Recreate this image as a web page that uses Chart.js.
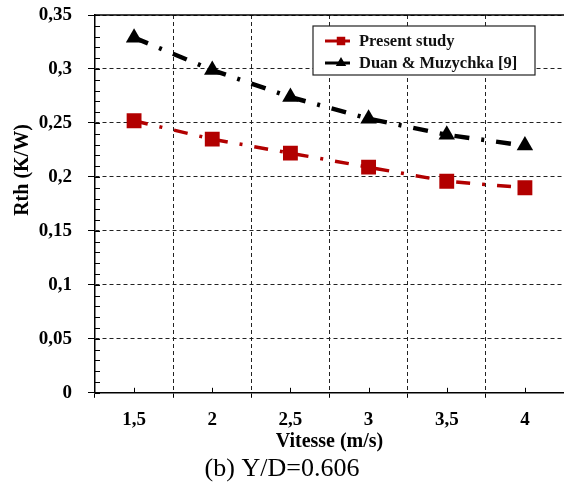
<!DOCTYPE html>
<html>
<head>
<meta charset="utf-8">
<script src="https://cdn.jsdelivr.net/npm/chart.js@4.4.1/dist/chart.umd.min.js"></script>
<style>
  body { margin: 0; background: #fff; }
  #wrap { width: 564px; height: 488px; position: relative; }
</style>
</head>
<body>
<div id="wrap"><canvas id="myChart"></canvas></div>
<script>
const vitesse = ['1,5', '2', '2,5', '3', '3,5', '4'];
const presentStudy = [0.252, 0.235, 0.222, 0.209, 0.196, 0.190];
const duanMuzychka = [0.329, 0.299, 0.274, 0.254, 0.239, 0.229];
const seriesNames = ['Present study', 'Duan & Muzychka [9]'];
const yTitle = 'Rth (K/W)';

const serif = "'Liberation Serif', 'Times New Roman', serif";

// minor ticks, solid top frame, y title and the boxed legend
const extras = {
  id: 'extras',
  afterDatasetsDraw(chart) {
    const ctx = chart.ctx;
    const a = chart.chartArea;
    const x = chart.scales.x, y = chart.scales.y;
    ctx.save();
    ctx.strokeStyle = '#000';
    ctx.lineWidth = 1;
    for (let i = 0; i <= 35; i++) {
      const py = Math.round(y.getPixelForValue(i / 100)) + 0.5;
      ctx.beginPath();
      ctx.moveTo(a.left, py);
      ctx.lineTo(a.left + 5, py);
      ctx.stroke();
    }
    for (let i = 0; i < vitesse.length; i++) {
      const px = Math.round(x.getPixelForValue(i)) + 0.5;
      ctx.beginPath();
      ctx.moveTo(px, a.bottom);
      ctx.lineTo(px, a.bottom - 5);
      ctx.stroke();
    }
    ctx.lineWidth = 1.5;
    ctx.beginPath();
    ctx.moveTo(a.left, a.top);
    ctx.lineTo(a.right, a.top);
    ctx.stroke();

    // y axis title, sits a bit above the middle like the original
    ctx.save();
    ctx.translate(23, 170);
    ctx.rotate(-Math.PI / 2);
    ctx.fillStyle = '#000';
    ctx.font = "bold 20px " + serif;
    ctx.textAlign = 'center';
    ctx.textBaseline = 'middle';
    ctx.fillText(yTitle, 0, 0);
    ctx.restore();

    // legend
    const bx = 313, by = 26, bw = 222, bh = 49;
    ctx.fillStyle = '#fff';
    ctx.fillRect(bx, by, bw, bh);
    ctx.strokeStyle = '#222';
    ctx.lineWidth = 1.2;
    ctx.strokeRect(bx, by, bw, bh);
    chart.data.datasets.forEach((ds, i) => {
      const cy = by + 15 + i * 22;
      ctx.strokeStyle = ds.borderColor;
      ctx.lineWidth = 3;
      ctx.setLineDash([]);
      ctx.beginPath();
      ctx.moveTo(bx + 12, cy);
      ctx.lineTo(bx + 37, cy);
      ctx.stroke();
      ctx.fillStyle = ds.backgroundColor;
      Chart.helpers.drawPoint(ctx, { pointStyle: ds.pointStyle, radius: 6, rotation: 0, borderWidth: 0 }, bx + 28, cy);
      ctx.fillStyle = '#111';
      ctx.font = "bold 16.5px " + serif;
      ctx.textBaseline = 'middle';
      ctx.textAlign = 'left';
      ctx.fillText(ds.label, bx + 46, cy + 1);
    });
    ctx.restore();
  }
};

new Chart(document.getElementById('myChart'), {
  type: 'line',
  data: {
    labels: vitesse,
    datasets: [{
      label: seriesNames[0],
      data: presentStudy,
      borderColor: '#b20000',
      backgroundColor: '#b20000',
      borderWidth: 3.5,
      borderDash: [14, 12, 3, 12],
      pointStyle: 'rect',
      pointRadius: 10.5,
      pointHoverRadius: 10.5,
      pointBorderWidth: 0,
      fill: false
    }, {
      label: seriesNames[1],
      data: duanMuzychka,
      borderColor: '#000',
      backgroundColor: '#000',
      borderWidth: 4.5,
      borderDash: [15, 12, 3, 12],
      pointStyle: 'triangle',
      pointRadius: 9.5,
      pointHoverRadius: 9.5,
      pointBorderWidth: 0,
      fill: false
    }]
  },
  options: {
    responsive: true,
    maintainAspectRatio: false,
    animation: false,
    layout: { autoPadding: false, padding: { top: 15, right: 0, left: 0, bottom: 0 } },
    plugins: {
      legend: { display: false },
      tooltip: { enabled: false },
      title: {
        display: true,
        position: 'bottom',
        text: '(b) Y/D=0.606',
        color: '#000',
        font: { family: serif, size: 26, weight: 'normal' },
        padding: { top: 0, bottom: 3 }
      }
    },
    scales: {
      x: {
        offset: true,
        afterFit(scale) {
          scale.height = 61;
          scale.paddingLeft = 0;
          scale.paddingRight = 0;
        },
        grid: {
          offset: true,
          color: '#222',
          lineWidth: 1,
          tickLength: 5,
          tickColor: '#000'
        },
        border: { display: true, color: '#000', width: 1.5, dash: [4, 3] },
        ticks: {
          color: '#000',
          padding: 11,
          maxRotation: 0,
          font: { family: serif, size: 19, weight: 'bold' }
        },
        title: {
          display: true,
          text: 'Vitesse (m/s)',
          color: '#000',
          font: { family: serif, size: 20, weight: 'bold' },
          padding: { top: 0, bottom: 0 }
        }
      },
      y: {
        min: 0,
        max: 0.35,
        afterFit(scale) {
          scale.width = 95;
          scale.paddingTop = 0;
          scale.paddingBottom = 0;
        },
        grid: {
          color: '#222',
          lineWidth: 1,
          tickLength: 7,
          tickColor: '#000'
        },
        border: { display: true, color: '#000', width: 1.5, dash: [4, 3] },
        ticks: {
          stepSize: 0.05,
          color: '#000',
          padding: 16,
          font: { family: serif, size: 19, weight: 'bold' },
          callback: v => Number(v.toFixed(2)).toString().replace('.', ',')
        }
      }
    }
  },
  plugins: [extras]
});
</script>
</body>
</html>
